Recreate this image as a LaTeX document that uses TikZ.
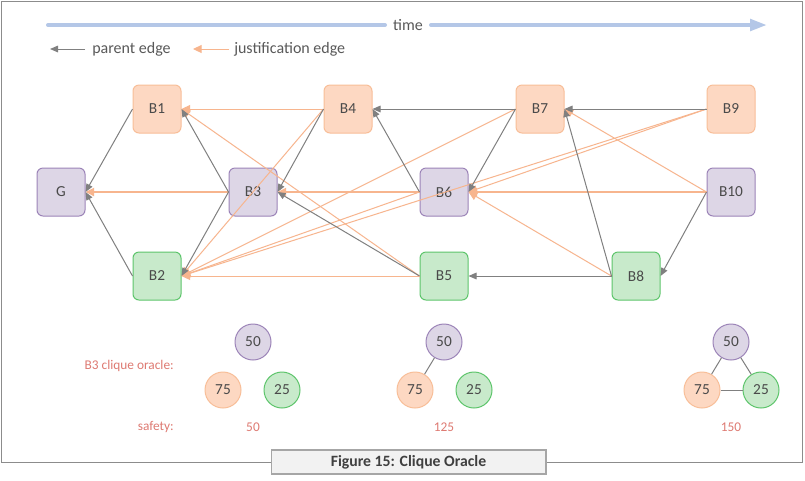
\documentclass[tikz,border=0pt]{standalone}
\usepackage{fontspec}
\setmainfont{Carlito}
\usetikzlibrary{arrows.meta}
\definecolor{orfill}{HTML}{FDD8C2}
\definecolor{ordraw}{HTML}{F8BE98}
\definecolor{pufill}{HTML}{DDD6E6}
\definecolor{pudraw}{HTML}{9C84B8}
\definecolor{grfill}{HTML}{C8EACB}
\definecolor{grdraw}{HTML}{5DC56B}
\definecolor{pedge}{HTML}{808080}
\definecolor{jedge}{HTML}{F7B58E}
\definecolor{timec}{HTML}{B4C7E7}
\definecolor{txt}{HTML}{595959}
\definecolor{ntxt}{HTML}{4A4A4A}
\definecolor{lbl}{HTML}{DE7A72}
\definecolor{framec}{HTML}{8C8C8C}
\definecolor{capfill}{HTML}{F2F2F2}
\definecolor{capdraw}{HTML}{A6A6A6}
\definecolor{captxt}{HTML}{404040}
\begin{document}
\begin{tikzpicture}[x=0.75pt,y=-0.75pt,
  blk/.style={rectangle, rounded corners=4.5pt, minimum width=36pt, minimum height=36pt,
    inner sep=0pt, line width=0.75pt, text=ntxt, font=\fontsize{11.5}{13}\selectfont},
  orblk/.style={blk, fill=orfill, draw=ordraw},
  publk/.style={blk, fill=pufill, draw=pudraw},
  grblk/.style={blk, fill=grfill, draw=grdraw},
  circ/.style={circle, minimum size=27pt, inner sep=0pt, line width=0.75pt, text=ntxt,
    font=\fontsize{11.5}{13}\selectfont},
  orcirc/.style={circ, fill=orfill, draw=ordraw},
  pucirc/.style={circ, fill=pufill, draw=pudraw},
  grcirc/.style={circ, fill=grfill, draw=grdraw},
  par/.style={draw=pedge, line width=0.75pt, -{Triangle[length=6pt,width=5pt]}},
  jus/.style={draw=jedge, line width=0.75pt, -{Triangle[length=6.5pt,width=6pt]}},
  jthick/.style={jus, line width=1.7pt},
  lab/.style={text=lbl, font=\fontsize{10}{12}\selectfont, inner sep=0pt},
  legtxt/.style={text=txt, font=\fontsize{12}{14}\selectfont, inner sep=0pt, anchor=west},
  cliq/.style={draw=pedge, line width=0.75pt}
]
\useasboundingbox (0,0) rectangle (805,480);
\fill[white] (0,0) rectangle (805,480);
\draw[framec, line width=1pt] (1.5,1.5) rectangle (802.5,462.5);

% time arrow
\node[text=txt, font=\fontsize{12}{14}\selectfont, inner sep=0pt] (time) at (408,25) {time};
\coordinate (tl) at (48,25);
\coordinate (tm1) at (385,25);
\coordinate (tm2) at (431,25);
\coordinate (tr) at (767,25);
\draw[timec, line width=3pt, line cap=round] (tl) -- (tm1);
\draw[timec, line width=3pt, line cap=round, -{Triangle[length=12.75pt,width=8.5pt]}] (tm2) -- (tr);

% legend
\coordinate (lp1) at (85,49);
\coordinate (lp2) at (50,49);
\draw[par] (lp1) -- (lp2);
\node[legtxt] (lpt) at (92,49) {parent edge};
\coordinate (lj1) at (229,49);
\coordinate (lj2) at (193,49);
\draw[jus] (lj1) -- (lj2);
\node[legtxt] (ljt) at (234,49) {justification edge};

% blocks
\node[orblk] (B1) at (157,109) {B1};
\node[orblk] (B4) at (348,109) {B4};
\node[orblk] (B7) at (540,109) {B7};
\node[orblk] (B9) at (731,109) {B9};
\node[publk] (G) at (61,192) {G};
\node[publk] (B3) at (253,192) {B3};
\node[publk] (B6) at (444,192) {B6};
\node[publk] (B10) at (731,192) {B10};
\node[grblk] (B2) at (157,276) {B2};
\node[grblk] (B5) at (444,276) {B5};
\node[grblk] (B8) at (636,276) {B8};

% justification edges
\draw[jus] (B4.west) -- (B1.east);
\draw[jus] (B5.west) -- (B1.east);
\draw[jus] (B4.west) -- (B2.east);
\draw[jus] (B5.west) -- (B2.east);
\draw[jus] (B6.west) -- (B2.east);
\draw[jus] (B7.west) -- (B2.east);
\draw[jus] (B9.west) -- (B2.east);
\draw[jus] (B9.west) -- (B6.east);
\draw[jus] (B8.west) -- (B6.east);
\draw[jus] (B10.west) -- (B7.east);
\draw[jthick] (B3.west) -- (G.east);
\draw[jthick] (B6.west) -- (B3.east);
\draw[jthick] (B10.west) -- (B6.east);

% parent edges
\draw[par] (B1.west) -- (G.east);
\draw[par] (B2.west) -- (G.east);
\draw[par] (B3.west) -- (B1.east);
\draw[par] (B3.west) -- (B2.east);
\draw[par] (B4.west) -- (B3.east);
\draw[par] (B5.west) -- (B3.east);
\draw[par] (B6.west) -- (B4.east);
\draw[par] (B7.west) -- (B4.east);
\draw[par] (B7.west) -- (B6.east);
\draw[par] (B8.west) -- (B5.east);
\draw[par] (B8.west) -- (B7.east);
\draw[par] (B9.west) -- (B7.east);
\draw[par] (B10.west) -- (B8.east);

% clique oracle
\node[lab, anchor=east] (cqlab) at (174,366) {B3 clique oracle:};
\node[lab, anchor=east] (sflab) at (174,427) {safety:};

\node[pucirc] (a50) at (253,342) {50};
\node[orcirc] (a75) at (223,390) {75};
\node[grcirc] (a25) at (282,390) {25};
\node[lab] (s1) at (253,427) {50};

\node[pucirc] (b50) at (444,342) {50};
\node[orcirc] (b75) at (415,390) {75};
\node[grcirc] (b25) at (474,390) {25};
\draw[cliq] (b50) -- (b75);
\node[lab] (s2) at (444,427) {125};

\node[pucirc] (c50) at (731,342) {50};
\node[orcirc] (c75) at (702,390) {75};
\node[grcirc] (c25) at (761,390) {25};
\draw[cliq] (c50) -- (c75);
\draw[cliq] (c50) -- (c25);
\draw[cliq] (c75) -- (c25);
\node[lab] (s3) at (731,427) {150};

% caption
\node[draw=capdraw, fill=capfill, line width=1pt, minimum width=206pt, minimum height=18pt,
  inner sep=0pt, text=captxt, font=\bfseries\fontsize{11.8}{14}\selectfont] (cap) at (408.5,462) {Figure 15: Clique Oracle};
\end{tikzpicture}
\end{document}
